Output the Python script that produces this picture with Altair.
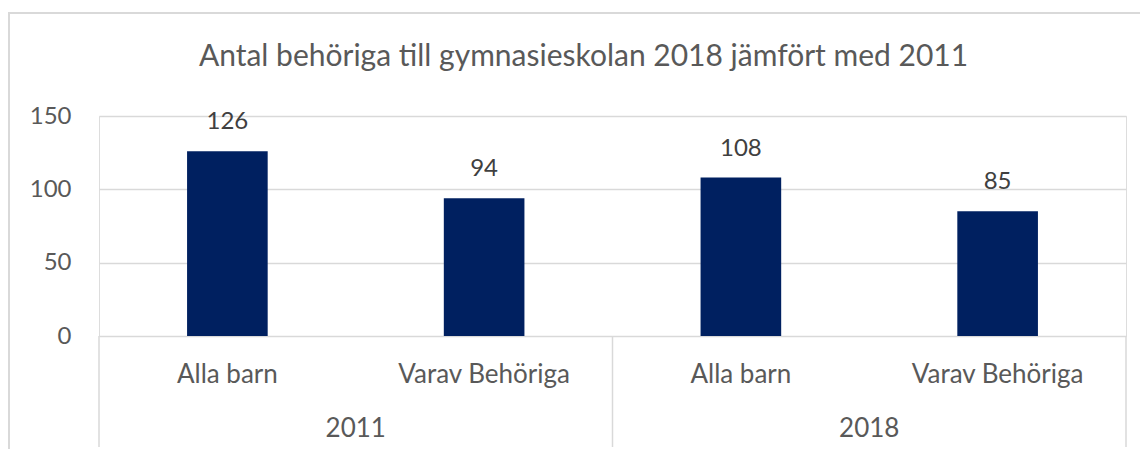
import altair as alt
import pandas as pd

# ---- data ----
years = ["2011", "2011", "2018", "2018"]
groups = ["Alla barn", "Varav Behöriga", "Alla barn", "Varav Behöriga"]
values = [126, 94, 108, 85]
title_text = "Antal behöriga till gymnasieskolan 2018 jämfört med 2011"
y_ticks = [0, 50, 100, 150]

keys = [f"{y}|{g}" for y, g in zip(years, groups)]
df = pd.DataFrame({"key": keys, "year": years, "group": groups, "value": values})

year_list = ["2011", "2018"]
year_anchor = [f"{y}|{groups[0]}" for y in year_list]
df_years = pd.DataFrame({"key": year_anchor, "year": year_list})
df_sep_start = pd.DataFrame({"key": year_anchor})
df_sep_end = pd.DataFrame({"key": [keys[-1]]})
df_frame = pd.DataFrame({"a": [0]})

FONT = "Lato"
BAR = "#002060"
GRID = "#d9d9d9"
TXT = "#595959"

xscale = alt.Scale(domain=keys, paddingInner=0, paddingOuter=0)

def X(field, **kw):
    return alt.X(field, type="nominal", scale=xscale, axis=None, sort=keys, **kw)

bars = alt.Chart(df).mark_bar(color=BAR, width=alt.RelativeBandSize(0.314)).encode(
    x=X("key"),
    y=alt.Y("value:Q",
            scale=alt.Scale(domain=[0, 150], nice=False),
            axis=alt.Axis(values=y_ticks, title=None, domain=False, ticks=False,
                          labelPadding=28, labelFont=FONT, labelFontSize=24,
                          labelColor=TXT, gridColor=GRID, gridWidth=1.5)),
)

labels = alt.Chart(df).mark_text(font=FONT, fontSize=24, color="#404040",
                                 baseline="alphabetic", dy=-22).encode(
    x=X("key"), y=alt.Y("value:Q"), text=alt.Text("value:Q"))

inner = alt.Chart(df).mark_text(font=FONT, fontSize=26, color=TXT,
                                baseline="alphabetic").encode(
    x=X("key"), y=alt.value(267), text="group:N")

outer = alt.Chart(df_years).mark_text(font=FONT, fontSize=26, color=TXT,
                                      baseline="alphabetic").encode(
    x=X("key", bandPosition=1), y=alt.value(321), text="year:N")

sep1 = alt.Chart(df_sep_start).mark_rule(color=GRID, strokeWidth=1.5).encode(
    x=X("key", bandPosition=0), y=alt.value(220), y2=alt.value(331))
sep2 = alt.Chart(df_sep_end).mark_rule(color=GRID, strokeWidth=1.5).encode(
    x=X("key", bandPosition=1), y=alt.value(220), y2=alt.value(331))

frame = alt.Chart(df_frame).mark_rect(fillOpacity=0, stroke=GRID, strokeWidth=2).encode(
    x=alt.value(-90), x2=alt.value(1070), y=alt.value(-103), y2=alt.value(360))

chart = alt.layer(frame, bars, labels, inner, outer, sep1, sep2).properties(
    width=1027, height=220,
    autosize=alt.AutoSizeParams(type="none"),
    padding={"left": 91, "top": 108, "right": 14, "bottom": 113},
    title=alt.TitleParams(title_text, font=FONT, fontSize=30, fontWeight="normal",
                          color=TXT, anchor="middle", frame="group", dx=-29,
                          baseline="alphabetic", offset=0, dy=84),
).configure_view(stroke=None).configure(background="white")

chart.save("out.html", embed_options={"renderer": "svg", "actions": False})
